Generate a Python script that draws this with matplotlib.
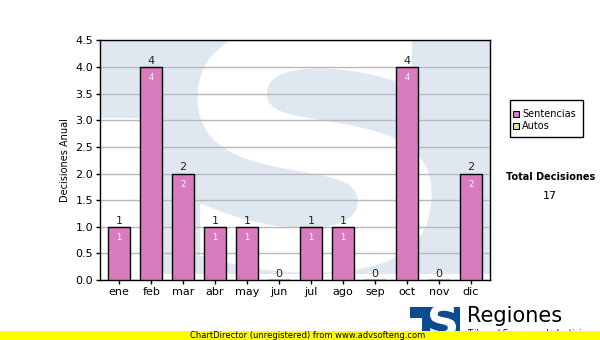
import numpy as np
import matplotlib.pyplot as plt
from matplotlib.patches import Rectangle, PathPatch
from matplotlib.textpath import TextPath
from matplotlib.font_manager import FontProperties
from matplotlib.transforms import Affine2D

meses = ['ene', 'feb', 'mar', 'abr', 'may', 'jun', 'jul', 'ago', 'sep', 'oct', 'nov', 'dic']
sentencias = [1, 4, 2, 1, 1, 0, 1, 1, 0, 4, 0, 2]
autos = [0, 0, 0, 0, 0, 0, 0, 0, 0, 0, 0, 0]
yticks = [0.0, 0.5, 1.0, 1.5, 2.0, 2.5, 3.0, 3.5, 4.0, 4.5]
total = sum(sentencias) + sum(autos)

W, H = 600, 340


def letra_s(x0, x1, y0, y1, trans, color, z):
    # "S" del logo ajustada a una caja
    tp = TextPath((0, 0), 'S', prop=FontProperties(family='DejaVu Sans', weight='bold'))
    ext = tp.get_extents()
    sx = (x1 - x0) / ext.width
    sy = (y1 - y0) / ext.height
    t = Affine2D().translate(-ext.x0, -ext.y0).scale(sx, sy).translate(x0, y0) + trans
    return PathPatch(tp, transform=t, facecolor=color, edgecolor='none', zorder=z)


fig = plt.figure(figsize=(6, 3.4), dpi=100)
fig.patch.set_facecolor('white')

# area del grafico
ax = fig.add_axes([100/W, 1-280/H, 390/W, 239.5/H])
ax.set_facecolor('white')

# marca de agua (logo)
azul = '#dfe8f1'
ax.add_patch(Rectangle((0, 0.025), 1, 0.975, transform=ax.transAxes,
                       facecolor=azul, edgecolor='none', zorder=0))
ax.add_patch(Rectangle((0, 0.025), 0.14, 0.65, transform=ax.transAxes,
                       facecolor='white', edgecolor='none', zorder=0))
s = letra_s(0.25, 0.85, 0.03, 1.07, ax.transAxes, 'white', 0.5)
ax.add_patch(s)
s.set_clip_path(ax.patch)

x = np.arange(len(meses))
ax.yaxis.grid(True, color='#b8b8b8', linewidth=1, zorder=1)
ax.set_axisbelow(True)
ax.bar(x, sentencias, width=0.7, color='#d97bbf', edgecolor='black',
       linewidth=1, zorder=3)
for xi, v in zip(x, sentencias):
    ax.text(xi, v + 0.02, str(v), ha='center', va='bottom', fontsize=8, color='#222222', zorder=4)
    if v > 0:
        ax.text(xi, v - 0.12, str(v), ha='center', va='top', fontsize=6, color='white', zorder=4)

ax.set_xlim(-0.6, 11.6)
ax.set_ylim(0, 4.5)
ax.set_xticks(x)
ax.set_xticklabels(meses, fontsize=8)
ax.set_yticks(yticks)
ax.set_yticklabels([f'{t:.1f}' for t in yticks], fontsize=8)
ax.tick_params(length=3, width=1, pad=2)
ax.set_ylabel('Decisiones Anual', fontsize=7, labelpad=4)
for sp in ax.spines.values():
    sp.set_linewidth(1)

# leyenda
fig.patches.append(Rectangle((510/W, 1-137/H), 73/W, 37/H, transform=fig.transFigure,
                             facecolor='white', edgecolor='black', linewidth=1))
fig.patches.append(Rectangle((513/W, 1-117/H), 6/W, 6/H, transform=fig.transFigure,
                             facecolor='#d97bbf', edgecolor='black', linewidth=0.8))
fig.patches.append(Rectangle((513/W, 1-129/H), 6/W, 6/H, transform=fig.transFigure,
                             facecolor='#d9ee9b', edgecolor='black', linewidth=0.8))
fig.text(522/W, 1-114/H, 'Sentencias', fontsize=7, va='center')
fig.text(522/W, 1-126/H, 'Autos', fontsize=7, va='center')

fig.text(551/W, 1-177/H, 'Total Decisiones', fontsize=7, fontweight='bold', ha='center', va='center')
fig.text(550/W, 1-196/H, str(total), fontsize=8, ha='center', va='center')

# logo inferior
azul_logo = '#0d4a8f'
fig.patches.append(Rectangle((410/W, 1-340/H), 50/W, 33/H, transform=fig.transFigure,
                             facecolor=azul_logo, edgecolor='none'))
fig.patches.append(Rectangle((410/W, 1-340/H), 12/W, 22/H, transform=fig.transFigure,
                             facecolor='white', edgecolor='none'))
fig.patches.append(letra_s(430/W, 456/W, 1-337/H, 1-305/H, fig.transFigure, 'white', 2))
fig.text(467/W, 1-316/H, 'Regiones', fontsize=15, ha='left', va='center')
fig.text(467/W, 1-334/H, 'Tribunal Supremo de Justicia', fontsize=6, ha='left', va='center')

# banda amarilla
fig.patches.append(Rectangle((0, 0), 1, 9/H, transform=fig.transFigure,
                             facecolor='#ffff00', edgecolor='none', zorder=5))
fig.text(190/W, 4.5/H, 'ChartDirector (unregistered) from www.advsofteng.com',
         fontsize=6, va='center', ha='left', zorder=6)

fig.savefig('out.png', dpi=100)
